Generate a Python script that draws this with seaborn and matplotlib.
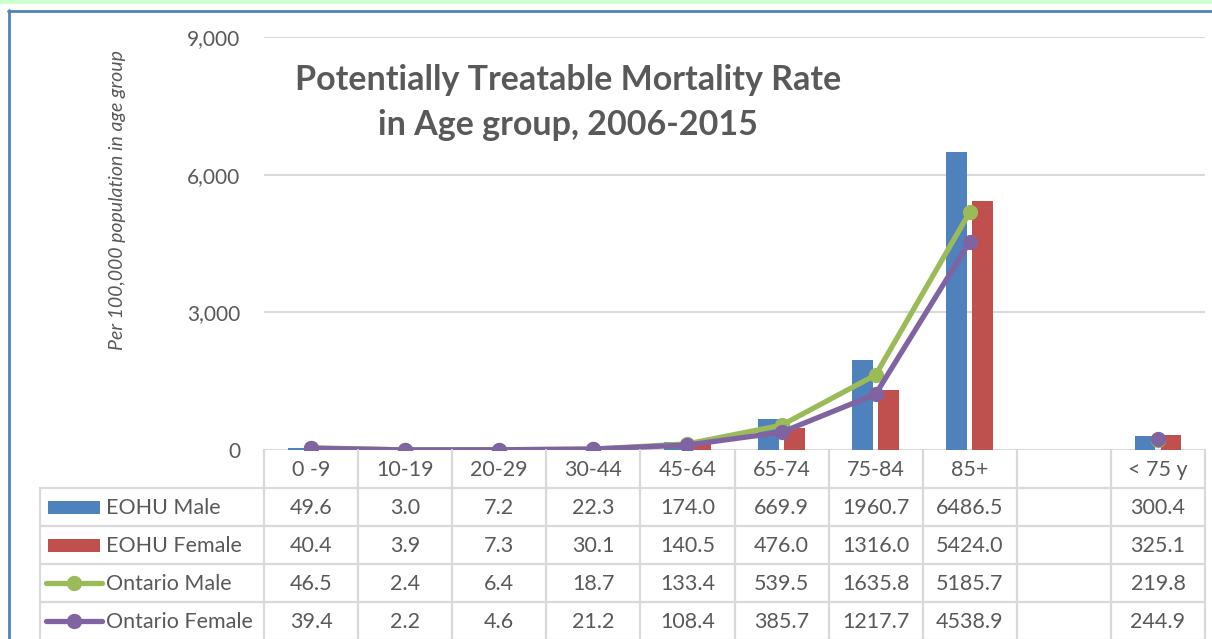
import matplotlib
matplotlib.use("Agg")
import matplotlib.pyplot as plt
import seaborn as sns
import numpy as np
import pandas as pd
from matplotlib.patches import Rectangle
from matplotlib.lines import Line2D

# dados
age_groups = ["0 -9", "10-19", "20-29", "30-44", "45-64", "65-74", "75-84", "85+", "", "< 75 y"]
eohu_male = [49.6, 3.0, 7.2, 22.3, 174.0, 669.9, 1960.7, 6486.5, np.nan, 300.4]
eohu_female = [40.4, 3.9, 7.3, 30.1, 140.5, 476.0, 1316.0, 5424.0, np.nan, 325.1]
ontario_male = [46.5, 2.4, 6.4, 18.7, 133.4, 539.5, 1635.8, 5185.7, np.nan, 219.8]
ontario_female = [39.4, 2.2, 4.6, 21.2, 108.4, 385.7, 1217.7, 4538.9, np.nan, 244.9]

series_names = ["EOHU Male", "EOHU Female", "Ontario Male", "Ontario Female"]
colors = ["#4f81bd", "#c0504d", "#9bbb59", "#8064a2"]
gray = "#595959"
grid_c = "#d9d9d9"

sns.set_theme(style="white")
plt.rcParams["font.family"] = ["Lato", "DejaVu Sans"]

W, H = 1212, 639
fig = plt.figure(figsize=(W / 100, H / 100), dpi=100)

# fundo: faixa verde e borda azul
bg = fig.add_axes([0, 0, 1, 1])
bg.set_xlim(0, W)
bg.set_ylim(H, 0)
bg.axis("off")
bg.add_patch(Rectangle((0, 0), W, 3.5, color="#ccffcc", lw=0))
bg.plot([8, W], [10.5, 10.5], color="#4f81bd", lw=2)
bg.plot([8.5, 8.5], [10, H], color="#4f81bd", lw=2)

left, right, top, bottom = 264, 1205, 37, 450
ax = fig.add_axes([left / W, 1 - bottom / H, (right - left) / W, (bottom - top) / H])

df = pd.DataFrame({
    "age": age_groups * 2,
    "series": ["EOHU Male"] * 10 + ["EOHU Female"] * 10,
    "value": eohu_male + eohu_female,
})
sns.barplot(data=df, x="age", y="value", hue="series", order=age_groups,
            hue_order=series_names[:2], palette=colors[:2], errorbar=None,
            width=0.55, gap=0.2, linewidth=0, saturation=1, legend=False, ax=ax)

x = np.arange(len(age_groups))
ax.plot(x, ontario_male, color=colors[2], lw=3.8, marker="o", ms=10, zorder=5)
ax.plot(x, ontario_female, color=colors[3], lw=3.8, marker="o", ms=10, zorder=6)

ax.set_xlim(-0.5, len(age_groups) - 0.5)
ax.set_ylim(0, 9000)
ax.set_yticks([0, 3000, 6000, 9000])
ax.set_yticklabels([f"{v:,}" for v in [0, 3000, 6000, 9000]])
ax.tick_params(axis="y", length=0, pad=17, labelsize=15, labelcolor=gray)
ax.set_xticks([])
ax.set_xlabel("")
ax.set_ylabel("")
for s in ax.spines.values():
    s.set_visible(False)
ax.yaxis.grid(True, color=grid_c, lw=1.5)
ax.set_axisbelow(True)

fig.text(118 / W, 1 - 200 / H, "Per 100,000 population in age group", rotation=90,
         ha="center", va="center", fontsize=14, style="italic", color=gray)
fig.text(568 / W, 1 - 80 / H, "Potentially Treatable Mortality Rate", ha="center",
         va="center", fontsize=24.5, fontweight="bold", color=gray)
fig.text(568 / W, 1 - 125 / H, "in Age group, 2006-2015", ha="center",
         va="center", fontsize=24.5, fontweight="bold", color=gray)

# tabela de dados
tab = fig.add_axes([0, 0, 1, 1])
tab.set_xlim(0, W)
tab.set_ylim(H, 0)
tab.axis("off")
tab.patch.set_alpha(0)

colw = (right - left) / len(age_groups)
row_edges = [bottom, 488, 526, 564, 602, 640]
lw_t = 1.6
# linhas verticais
for i in range(len(age_groups) + 1):
    xx = left + i * colw
    tab.plot([xx, xx], [bottom, H], color=grid_c, lw=lw_t)
tab.plot([40, 40], [488, H], color=grid_c, lw=lw_t)
# linhas horizontais
for yy in row_edges[1:]:
    tab.plot([40, right], [yy, yy], color=grid_c, lw=lw_t)

for i, lab in enumerate(age_groups):
    tab.text(left + (i + 0.5) * colw, (row_edges[0] + row_edges[1]) / 2 + 1, lab,
             ha="center", va="center", fontsize=15.5, color=gray)

all_vals = [eohu_male, eohu_female, ontario_male, ontario_female]
for r, (name, vals) in enumerate(zip(series_names, all_vals)):
    yc = (row_edges[r + 1] + row_edges[r + 2]) / 2
    for i, v in enumerate(vals):
        if not np.isnan(v):
            tab.text(left + (i + 0.5) * colw, yc + 1, f"{v:.1f}", ha="center",
                     va="center", fontsize=15.5, color=gray)
    if r < 2:
        tab.add_patch(Rectangle((48, yc - 6.5), 52, 13, color=colors[r], lw=0))
    else:
        tab.add_line(Line2D([46, 102], [yc, yc], color=colors[r], lw=3.8))
        tab.add_line(Line2D([74], [yc], color=colors[r], marker="o", ms=10))
    tab.text(106, yc + 1, name, ha="left", va="center", fontsize=15.5, color=gray)

fig.savefig("out.png", dpi=100)
